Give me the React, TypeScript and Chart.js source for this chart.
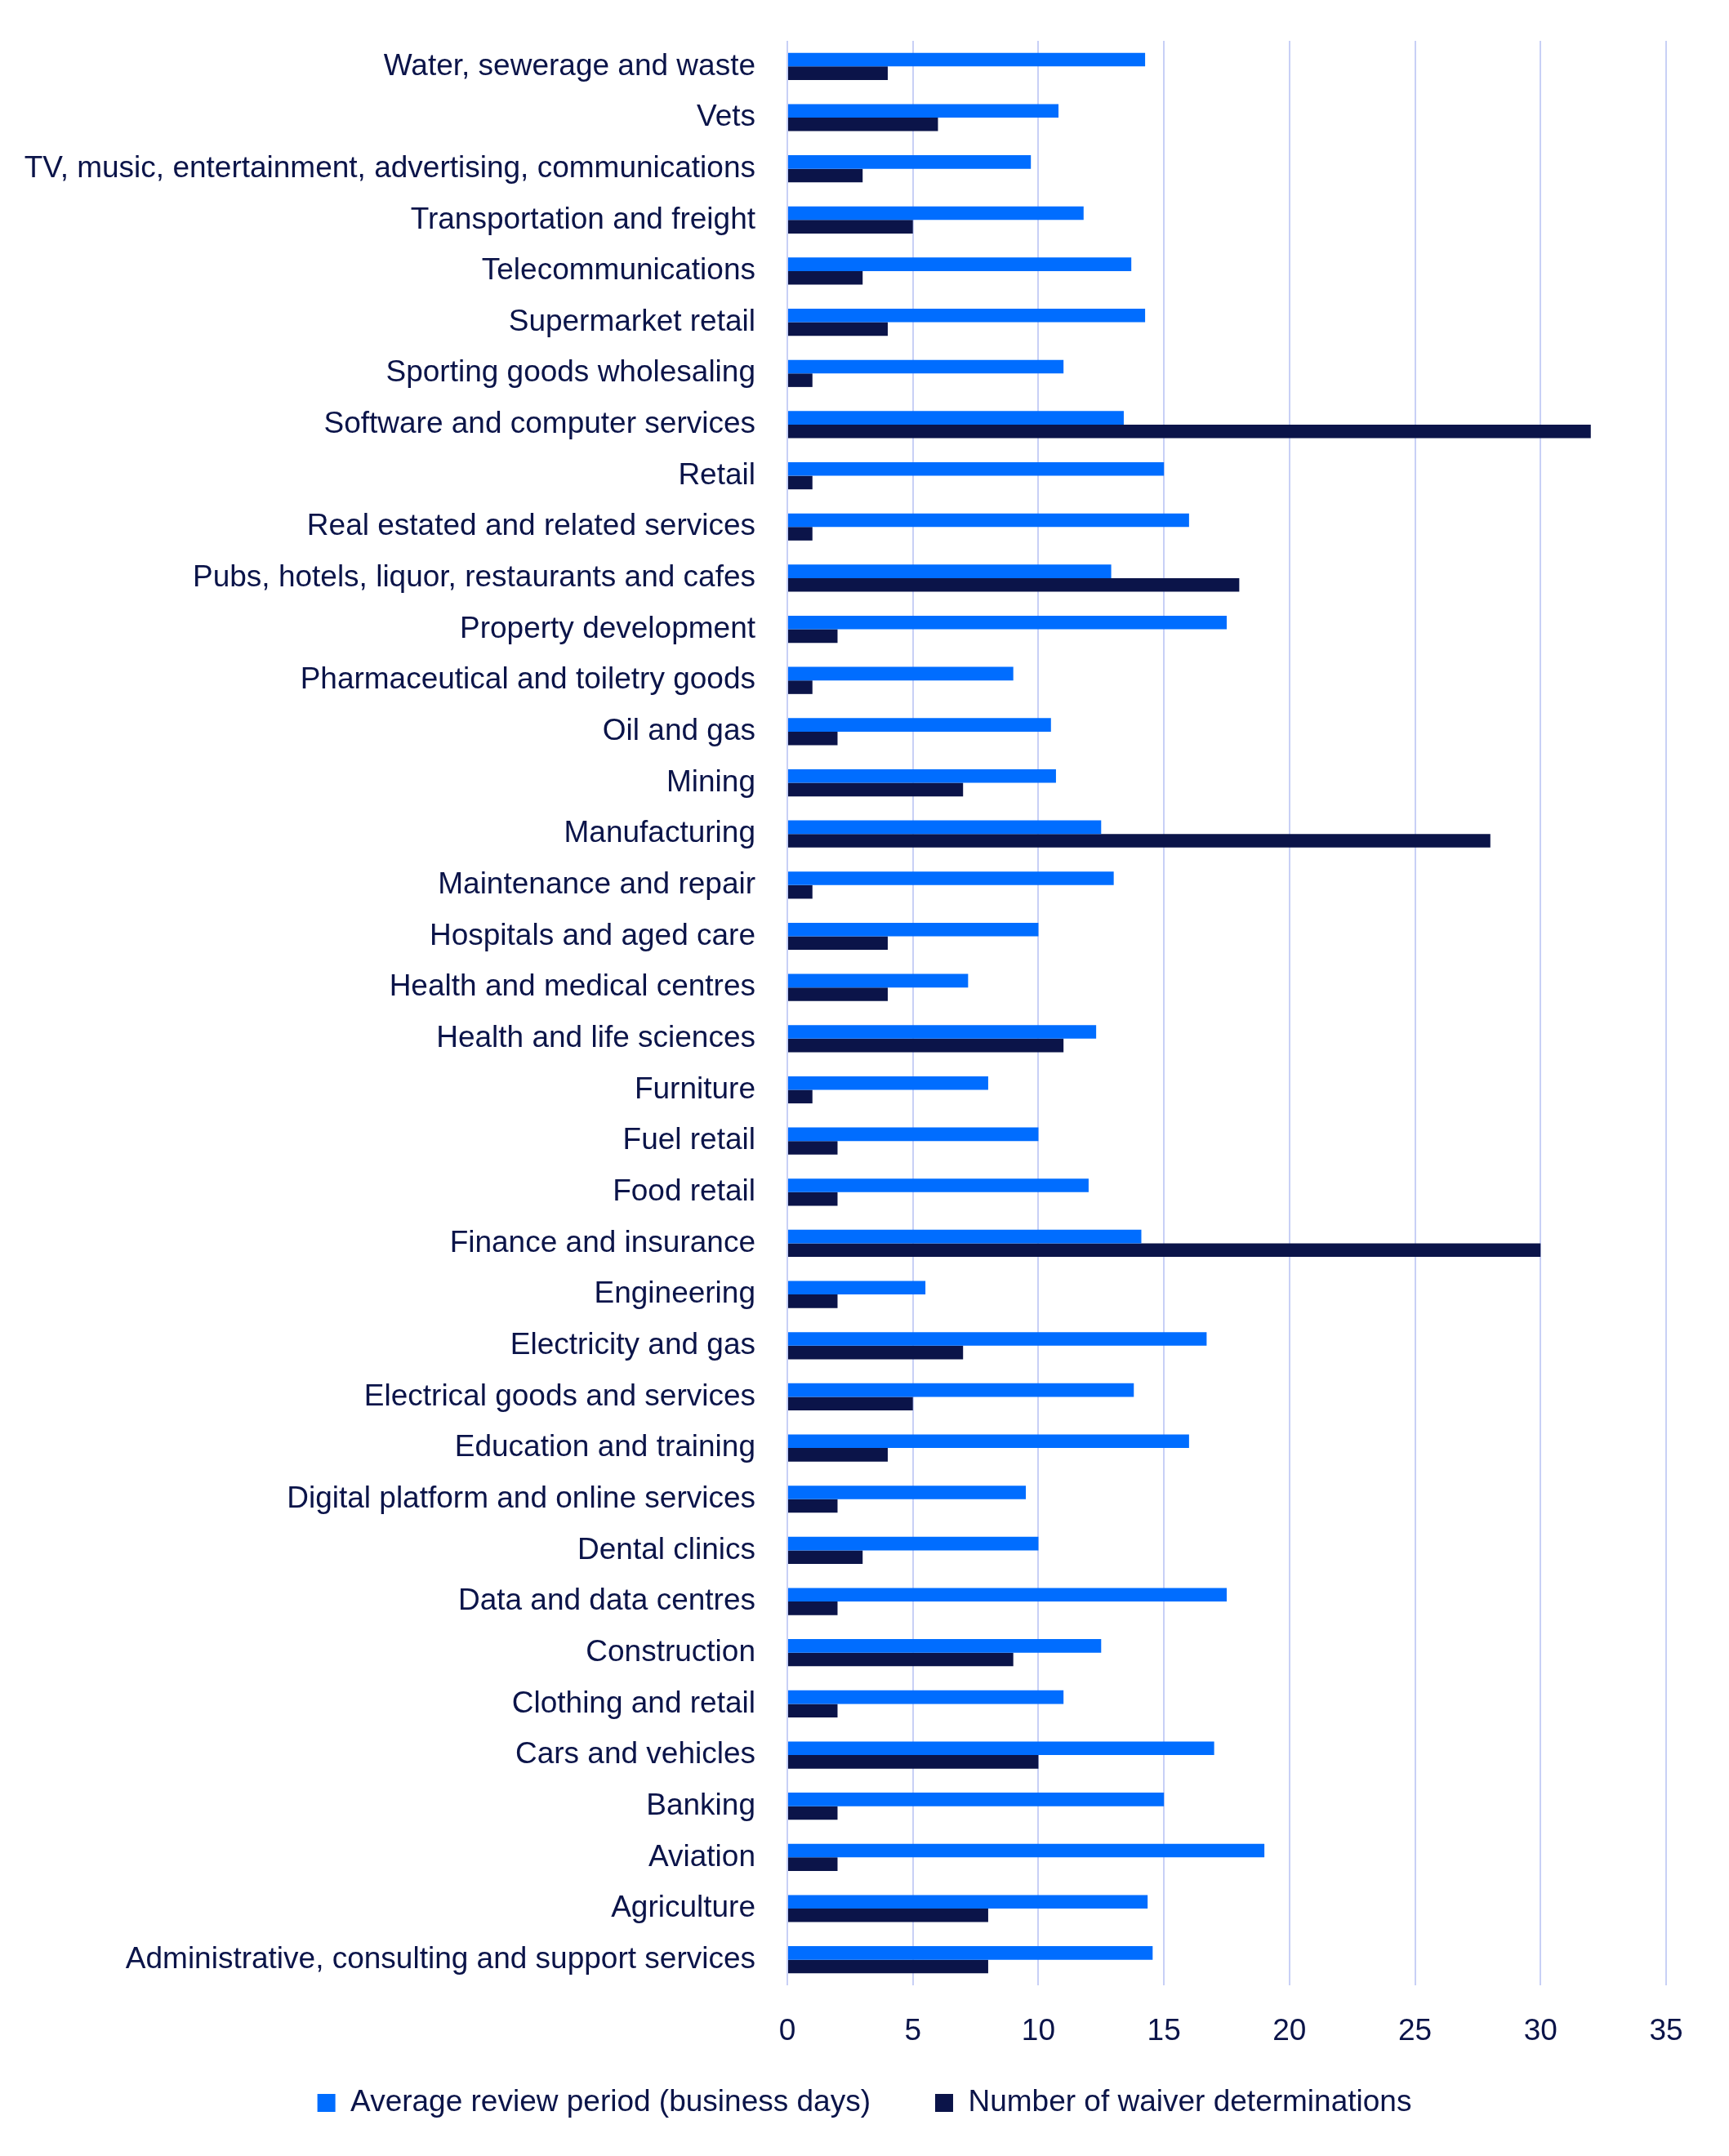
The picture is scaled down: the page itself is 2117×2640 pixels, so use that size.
import { useEffect, useRef } from 'react'
import { Chart, registerables } from 'chart.js'

Chart.register(...registerables)

const categories = [
  'Water, sewerage and waste',
  'Vets',
  'TV, music, entertainment, advertising, communications',
  'Transportation and freight',
  'Telecommunications',
  'Supermarket retail',
  'Sporting goods wholesaling',
  'Software and computer services',
  'Retail',
  'Real estated and related services',
  'Pubs, hotels, liquor, restaurants and cafes',
  'Property development',
  'Pharmaceutical and toiletry goods',
  'Oil and gas',
  'Mining',
  'Manufacturing',
  'Maintenance and repair',
  'Hospitals and aged care',
  'Health and medical centres',
  'Health and life sciences',
  'Furniture',
  'Fuel retail',
  'Food retail',
  'Finance and insurance',
  'Engineering',
  'Electricity and gas',
  'Electrical goods and services',
  'Education and training',
  'Digital platform and online services',
  'Dental clinics',
  'Data and data centres',
  'Construction',
  'Clothing and retail',
  'Cars and vehicles',
  'Banking',
  'Aviation',
  'Agriculture',
  'Administrative, consulting and support services',
]

const avgReviewDays = [
  14.25, 10.8, 9.7, 11.8, 13.7, 14.25, 11, 13.4, 15, 16, 12.9, 17.5, 9, 10.5, 10.7, 12.5, 13, 10, 7.2,
  12.3, 8, 10, 12, 14.1, 5.5, 16.7, 13.8, 16, 9.5, 10, 17.5, 12.5, 11, 17, 15, 19, 14.35, 14.55,
]

const waiverCounts = [
  4, 6, 3, 5, 3, 4, 1, 32, 1, 1, 18, 2, 1, 2, 7, 28, 1, 4, 4, 11, 1, 2, 2, 30, 2, 7, 5, 4, 2, 3, 2, 9,
  2, 10, 2, 2, 8, 8,
]

const seriesNames = ['Average review period (business days)', 'Number of waiver determinations']

const xMin = 0
const xMax = 35
const xStep = 5

const BLUE = '#006dff'
const NAVY = '#0b1449'
const GRID = '#c8d0f6'
const FONT = "'Liberation Sans', Arial, sans-serif"

// legend.labels.padding sets both the gap between items and the space above them,
// so pull the legend up a little after layout to keep the wide gap between items
const legendLift = {
  id: 'legendLift',
  afterLayout(chart: any) {
    if (!chart.legend) return
    chart.legend.top -= 22
    chart.legend.bottom -= 22
  },
}

const App = () => {
  const canvasRef = useRef<HTMLCanvasElement>(null)
  const chartRef = useRef<Chart | null>(null)

  useEffect(() => {
    chartRef.current?.destroy()
    if (!canvasRef.current) return

    chartRef.current = new Chart(canvasRef.current, {
      type: 'bar',
      data: {
        labels: categories,
        datasets: [
          {
            label: seriesNames[0],
            data: avgReviewDays,
            backgroundColor: BLUE,
            categoryPercentage: 0.53,
            barPercentage: 1,
          },
          {
            label: seriesNames[1],
            data: waiverCounts,
            backgroundColor: NAVY,
            categoryPercentage: 0.53,
            barPercentage: 1,
          },
        ],
      },
      options: {
        indexAxis: 'y',
        animation: false,
        responsive: true,
        maintainAspectRatio: false,
        layout: { padding: { top: 42, left: 0, right: 0, bottom: 6.5 } },
        plugins: {
          tooltip: { enabled: false },
          legend: {
            position: 'bottom',
            labels: {
              color: NAVY,
              boxWidth: 22,
              boxHeight: 22,
              padding: 79,
              font: { family: FONT, size: 37 },
            },
          },
        },
        scales: {
          x: {
            min: xMin,
            max: xMax,
            afterFit: (scale: any) => {
              scale.height = 68.5
            },
            ticks: {
              stepSize: xStep,
              color: NAVY,
              padding: 35,
              font: { family: FONT, size: 37 },
            },
            grid: { color: GRID, lineWidth: 2, drawTicks: false },
            border: { display: false },
          },
          y: {
            afterFit: (scale: any) => {
              scale.width = 956
            },
            ticks: {
              color: NAVY,
              padding: 3,
              autoSkip: false,
              font: { family: FONT, size: 37 },
            },
            grid: { display: false, drawTicks: true, tickLength: 36 },
            border: { display: false },
          },
          // empty right-hand gutter, so the legend centres on the whole canvas
          gutter: {
            type: 'category',
            position: 'right',
            afterFit: (scale: any) => {
              scale.width = 69
            },
            ticks: { display: false },
            grid: { display: false, drawTicks: false },
            border: { display: false },
          },
        },
      },
      plugins: [legendLift],
    })

    return () => {
      chartRef.current?.destroy()
      chartRef.current = null
    }
  }, [])

  return (
    <div style={{ width: 2101, height: 2624, position: 'relative', background: '#ffffff' }}>
      <canvas ref={canvasRef} />
    </div>
  )
}

export default App
